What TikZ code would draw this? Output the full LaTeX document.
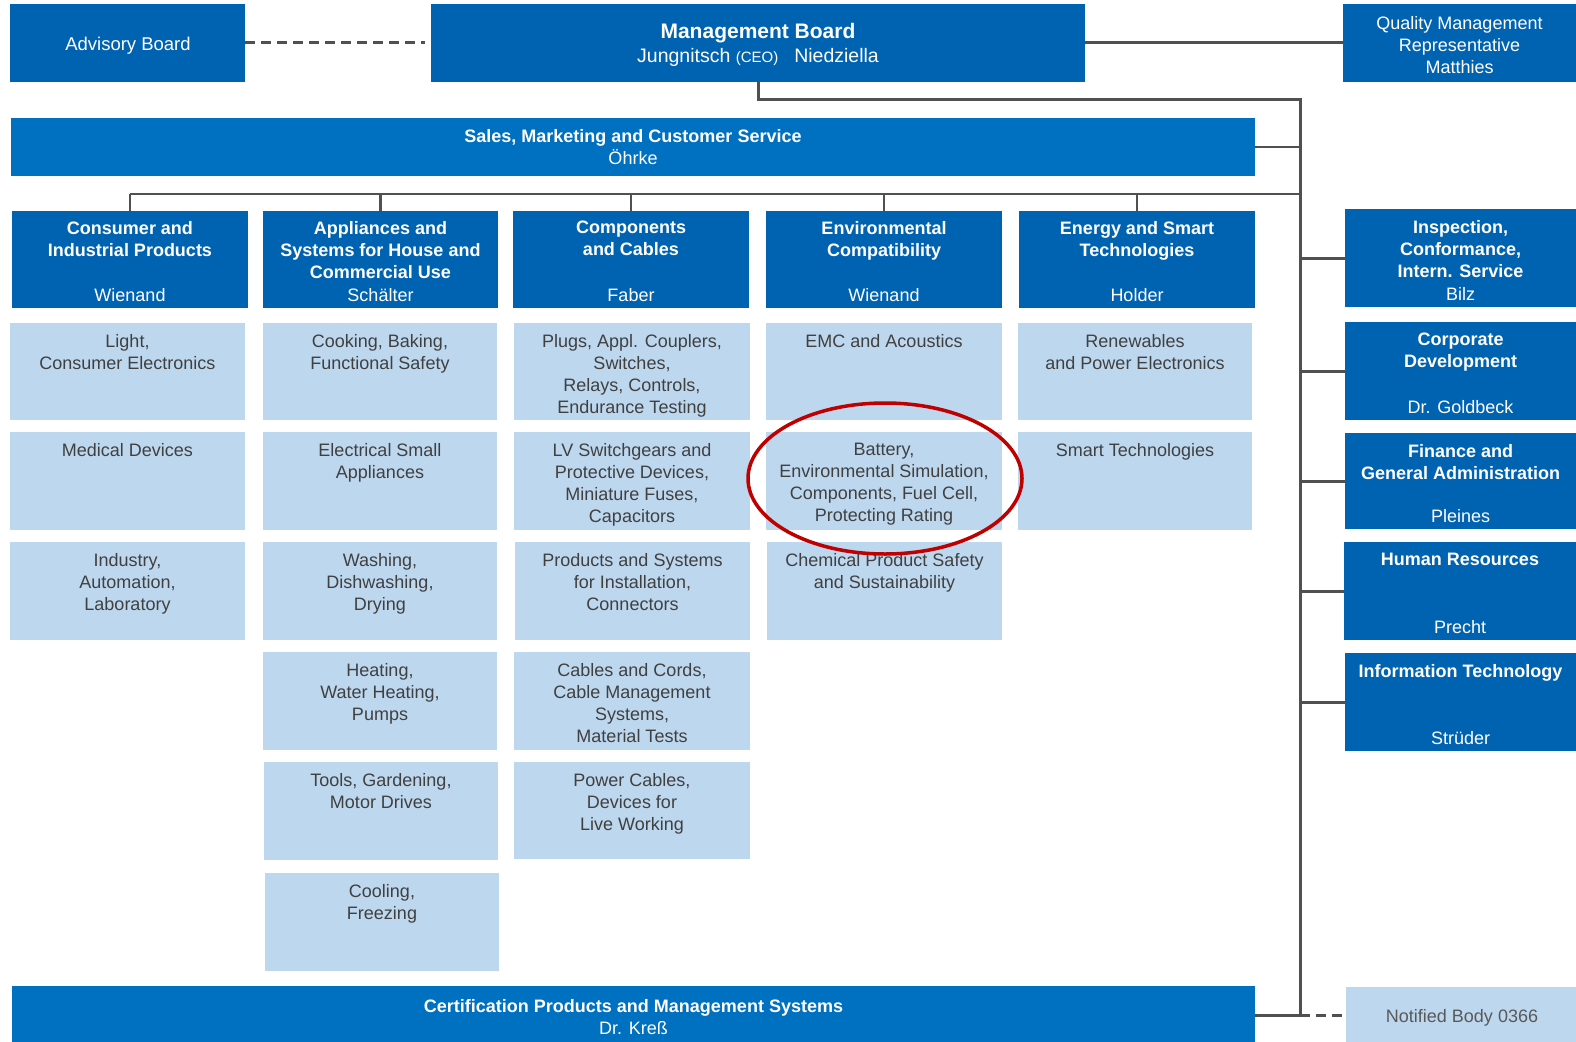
\documentclass[tikz,border=0pt]{standalone}
\usepackage{fontspec}
\setmainfont{Liberation Sans}
\usetikzlibrary{fit}

\definecolor{dkblue}{RGB}{0,99,177}
\definecolor{midblue}{RGB}{0,112,192}
\definecolor{ltblue}{RGB}{189,215,238}
\definecolor{txtgray}{RGB}{64,64,64}
\definecolor{notegray}{RGB}{89,89,89}
\definecolor{linegray}{RGB}{80,80,80}
\definecolor{ovalred}{RGB}{192,0,0}

\newcommand\orgfs{\fontsize{18}{22}\selectfont}

\tikzset{
  box/.style={inner sep=0pt, outer sep=0pt, draw=none},
  darkbox/.style={box, fill=dkblue},
  barbox/.style={box, fill=midblue},
  lightbox/.style={box, fill=ltblue},
  subtxt/.style={inner sep=0pt, align=center, text=txtgray, font=\orgfs},
  headtxt/.style={inner sep=0pt, align=center, text=white, font=\orgfs\bfseries},
  plaintxt/.style={inner sep=0pt, align=center, text=white, font=\orgfs},
  nametxt/.style={inner sep=0pt, text=white, font=\orgfs, anchor=base},
  link/.style={draw=linegray, line width=3pt},
  thinlink/.style={draw=linegray, line width=2.3pt},
  dashlink/.style={draw=linegray, line width=3pt, dash pattern=on 10pt off 6pt},
}

% light sub-unit box: name, x1, y1, x2, y2, text
\newcommand\mkLight[6]{%
  \node[lightbox, fit={(#2,#3) (#4,#5)}] (#1) {};
  \node[subtxt, anchor=north] (#1-t) at ([yshift=-11pt]#1.north) {#6};
}
% dark unit box: name, x1, y1, x2, y2, title, person, top offset
\newcommand\mkHead[8]{%
  \node[darkbox, fit={(#2,#3) (#4,#5)}] (#1) {};
  \node[headtxt, anchor=north] (#1-t) at ([yshift=-#8pt]#1.north) {#6};
  \node[nametxt] (#1-n) at ([yshift=7pt]#1.south) {#7};
}

\begin{document}
\begin{tikzpicture}[x=1pt, y=-1pt]
\useasboundingbox (0,0) rectangle (1576,1041);
\fill[white] (0,0) rectangle (1576,1041);

% ---- top row
\node[darkbox, fit={(10,4) (245,82)}] (adv) {};
\node[inner sep=0pt, text=white, font=\fontsize{18.5}{22}\selectfont, anchor=base] (adv-t) at (128,51) {Advisory Board};

\node[darkbox, fit={(431,4) (1085,82)}] (mb) {};
\node[inner sep=0pt, text=white, font=\fontsize{21}{24}\selectfont\bfseries, anchor=base] (mb-t) at (758,39) {Management Board};
\node[inner sep=0pt, text=white, font=\fontsize{19.5}{24}\selectfont, anchor=base] (mb-n) at (758,63)
  {Jungnitsch {\fontsize{15}{18}\selectfont(CEO)}\hspace{16pt}Niedziella};

\node[darkbox, fit={(1343,4) (1576,82)}] (qm) {};
\node[plaintxt, anchor=north] (qm-t) at ([yshift=-12pt]qm.north) {Quality Management\\Representative\\Matthies};

% ---- sales bar
\node[barbox, fit={(11,118) (1255,176)}] (sales) {};
\node[plaintxt, anchor=north] (sales-t) at ([yshift=-11pt]sales.north)
  {\bfseries Sales, Marketing and Customer Service\\Öhrke};

% ---- divisions
\mkHead{h1}{12}{211}{248}{308}{Consumer and\\Industrial Products}{Wienand}{10}
\mkHead{h2}{263}{211}{498}{308}{Appliances and\\Systems for House and\\Commercial Use}{Schälter}{10}
\mkHead{h3}{513}{211}{749}{308}{Components\\and Cables}{Faber}{10}
\mkHead{h4}{766}{211}{1002}{308}{Environmental\\Compatibility}{Wienand}{10}
\mkHead{h5}{1019}{211}{1255}{308}{Energy and Smart\\Technologies}{Holder}{10}

% ---- sub-units
\mkLight{a1}{10}{323}{245}{420}{Light,\\Consumer Electronics}
\mkLight{a2}{10}{432}{245}{530}{Medical Devices}
\mkLight{a3}{10}{542}{245}{640}{Industry,\\Automation,\\Laboratory}

\mkLight{b1}{263}{323}{497}{420}{Cooking, Baking,\\Functional Safety}
\mkLight{b2}{263}{432}{497}{530}{Electrical Small\\Appliances}
\mkLight{b3}{263}{542}{497}{640}{Washing,\\Dishwashing,\\Drying}
\mkLight{b4}{263}{652}{497}{750}{Heating,\\Water Heating,\\Pumps}
\mkLight{b5}{264}{762}{498}{860}{Tools, Gardening,\\Motor Drives}
\mkLight{b6}{265}{873}{499}{971}{Cooling,\\Freezing}

\mkLight{c1}{514}{323}{750}{420}{Plugs, Appl. Couplers,\\Switches,\\Relays, Controls,\\Endurance Testing}
\mkLight{c2}{514}{432}{750}{530}{LV Switchgears and\\Protective Devices,\\Miniature Fuses,\\Capacitors}
\mkLight{c3}{515}{542}{750}{640}{Products and Systems\\for Installation,\\Connectors}
\mkLight{c4}{514}{652}{750}{750}{Cables and Cords,\\Cable Management\\Systems,\\Material Tests}
\mkLight{c5}{514}{762}{750}{859}{Power Cables,\\Devices for\\Live Working}

\mkLight{d1}{766}{323}{1002}{420}{EMC and Acoustics}
\mkLight{d2}{766}{432}{1002}{530}{Battery,\\Environmental Simulation,\\Components, Fuel Cell,\\Protecting Rating}
\mkLight{d3}{767}{542}{1002}{640}{Chemical Product Safety\\and Sustainability}

\mkLight{e1}{1018}{323}{1252}{420}{Renewables\\and Power Electronics}
\mkLight{e2}{1018}{432}{1252}{530}{Smart Technologies}

% ---- central functions
\mkHead{r1}{1345}{209}{1576}{307}{Inspection,\\Conformance,\\Intern. Service}{Bilz}{11}
\mkHead{r2}{1345}{322}{1576}{420}{Corporate\\Development}{Dr. Goldbeck}{11}
\mkHead{r3}{1345}{433}{1576}{529}{Finance and\\General Administration}{Pleines}{11}
\mkHead{r4}{1344}{542}{1576}{640}{Human Resources}{Precht}{11}
\mkHead{r5}{1345}{653}{1576}{751}{Information Technology}{Strüder}{11}

% ---- certification bar and notified body
\node[barbox, fit={(12,986) (1255,1044)}] (cert) {};
\node[plaintxt, anchor=north] (cert-t) at ([yshift=-13pt]cert.north)
  {\bfseries Certification Products and Management Systems\\Dr. Kreß};

\node[lightbox, fit={(1346,987) (1576,1043)}] (nb) {};
\node[inner sep=0pt, text=notegray, font=\orgfs, anchor=base] (nb-t) at (1462,1022) {Notified Body 0366};

% ---- connectors
\coordinate (spTop) at (1300,99);
\coordinate (spBot) at (cert.east -| spTop);
\coordinate (bus) at (1300,194);

\draw[dashlink] (adv.east) -- ([xshift=-6pt]mb.west);
\draw[link] (mb.east) -- (qm.west);
\draw[link] (mb.south) |- (spTop) -- (spBot);
\draw[thinlink] (sales.east) -- (sales.east -| spTop);
\draw[thinlink] (h1.north |- bus) -- (bus);
\foreach \h in {h1,h2,h3,h4,h5}
  \draw[thinlink] (\h.north) -- (\h.north |- bus);
\foreach \r in {r1,r2,r3,r4,r5}
  \draw[link] (\r.west) -- (\r.west -| spTop);
\draw[link] (cert.east) -- (spBot);
\draw[dashlink] (spBot) -- (nb.west);

% ---- highlight ring
\draw[ovalred, line width=3.5pt] (885,478.5) ellipse [x radius=137pt, y radius=75.5pt];
\end{tikzpicture}
\end{document}
